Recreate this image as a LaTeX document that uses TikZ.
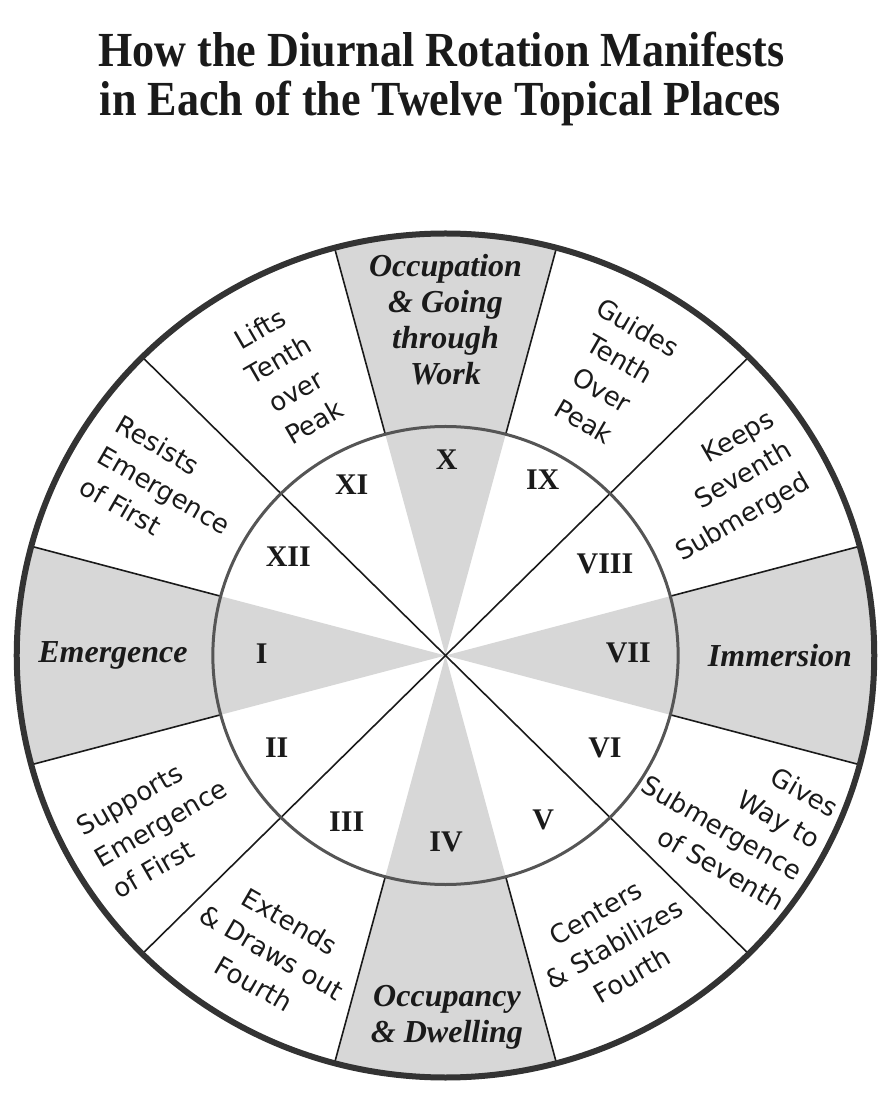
\documentclass[tikz,border=0pt]{standalone}
\usepackage{fontspec}
\usepackage{pdfrender}
\setmainfont{Liberation Serif}
\newfontfamily\titlefont[FakeStretch=0.9]{Liberation Serif}
\newfontfamily\sansf{DejaVu Sans}
\definecolor{greyfill}{HTML}{D7D7D7}
\definecolor{rim}{HTML}{333333}
\definecolor{inrim}{HTML}{555555}
\definecolor{ink}{HTML}{1A1A1A}
\begin{document}
\begin{tikzpicture}[x=1pt,y=1pt,
  spoke/.style={draw=ink, line width=1.6pt},
  numeral/.style={font=\fontsize{30}{30}\selectfont\bfseries, text=ink},
  italiclabel/.style={font=\fontsize{32}{36}\selectfont\bfseries\itshape, align=center, text=ink},
  sanslabel/.style={font={\sansf\fontsize{26}{36}\selectfont\pdfrender{TextRenderingMode=2,LineWidth=0.7pt}}, text=ink, inner sep=0pt},
  titleline/.style={font=\titlefont\bfseries\fontsize{49}{50}\selectfont, text=ink, anchor=base, inner sep=0pt}]
\useasboundingbox (-445.5,-460.5) rectangle (444.5,655.5);
\coordinate (c) at (0,0);
% wheel
\begin{scope}[xscale=1.016]
  \foreach \a in {0,90,180,270}
    \fill[greyfill] (c) -- (\a-15:422) arc[start angle=\a-15, end angle=\a+15, radius=422] -- cycle;
  \foreach \a in {15,75,105,165,195,255,285,345}
    \draw[spoke] (\a:229) -- (\a:422);
  \foreach \a in {45,135}
    \draw[spoke] (\a:422) -- (\a+180:422);
  \draw[draw=inrim, line width=3pt] (c) circle[radius=229];
  \draw[draw=rim, line width=6pt] (c) circle[radius=422];
\end{scope}
% title
\node[titleline] (title1) at (-4,589) {How the Diurnal Rotation Manifests};
\node[titleline] (title2) at (-5,540) {in Each of the Twelve Topical Places};
% numerals
\node[numeral] (n10) at (1.2,195.5) {X};
\node[numeral] (n9) at (97.2,176.2) {IX};
\node[numeral] (n8) at (159.5,91.5) {VIII};
\node[numeral] (n7) at (182.8,2.2) {VII};
\node[numeral] (n6) at (159.5,-92.8) {VI};
\node[numeral] (n5) at (97.8,-164.5) {V};
\node[numeral] (n4) at (0.5,-186.2) {IV};
\node[numeral] (n3) at (-98.8,-166.2) {III};
\node[numeral] (n2) at (-168.8,-91.8) {II};
\node[numeral] (n1) at (-183.8,2.2) {I};
\node[numeral] (n12) at (-157.2,98.8) {XII};
\node[numeral] (n11) at (-93.8,170.5) {XI};
% angular places
\node[italiclabel] (occupation) at (0,336) {Occupation\\\& Going\\through\\Work};
\node[italiclabel] (occupancy) at (1.5,-362) {Occupancy\\\& Dwelling};
\node[italiclabel] (emergence) at (-332.5,0) {Emergence};
\node[italiclabel] (immersion) at (334.5,0) {Immersion};
% other places
\node[sanslabel, align=center, rotate=-30] (guides) at (59.5:326) {Guides\\Tenth\\Over\\Peak};
\node[sanslabel, align=center, rotate=30] (lifts) at (119.5:322) {Lifts\\Tenth\\over\\Peak};
\node[sanslabel, align=right, rotate=30, anchor=east] (keeps) at (30.8:402) {Keeps\\Seventh\\Submerged};
\node[sanslabel, align=left, rotate=-30, anchor=west] (resists) at (149.6:400) {Resists\\Emergence\\of First};
\node[sanslabel, align=left, rotate=30, anchor=west] (supports) at (210.4:404) {Supports\\Emergence\\of First};
\node[sanslabel, align=right, rotate=-30, anchor=east] (gives) at (-29:416) {Gives\\Way to\\Submergence\\of Seventh};
\node[sanslabel, align=center, rotate=-30] (extends) at (239.7:344) {Extends\\\& Draws out\\Fourth};
\node[sanslabel, align=center, rotate=30] (centers) at (-59.7:334) {Centers\\\& Stabilizes\\Fourth};
\end{tikzpicture}
\end{document}
